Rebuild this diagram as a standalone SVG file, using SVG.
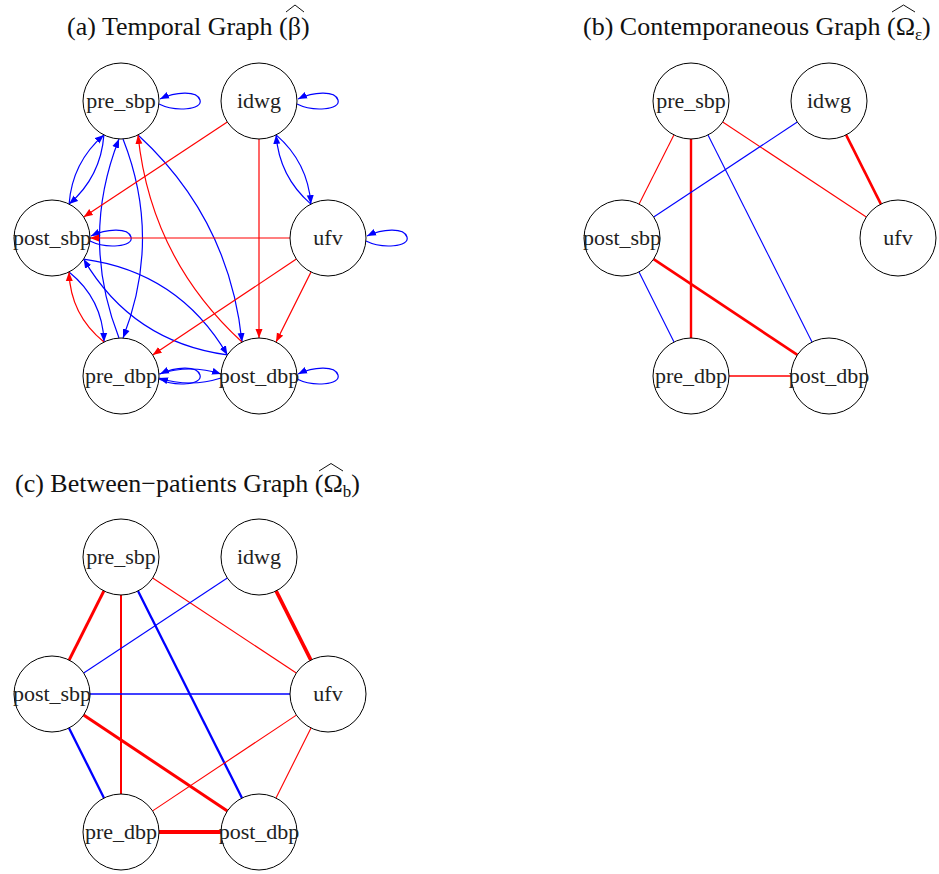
<svg xmlns="http://www.w3.org/2000/svg" width="939" height="874" viewBox="0 0 939 874">
<style>
.node circle{fill:#fff;stroke:#000;stroke-width:1}
.node text{font-family:"Liberation Serif","Times New Roman",serif;font-size:22px;text-anchor:middle;fill:#222}
.e{fill:none}
.r{stroke:#f00}
.b{stroke:#00f}
.w1{stroke-width:1.2px}
.title{font-family:"Liberation Serif","Times New Roman",serif;font-size:26px;fill:#111}
.hat{fill:none;stroke:#111;stroke-width:1}
</style>
<defs>
<marker id="ar" markerWidth="10" markerHeight="8" refX="9" refY="4" orient="auto" markerUnits="userSpaceOnUse"><path d="M0,0.5 L9,4 L0,7.5 z" fill="#f00"/></marker>
<marker id="ab" markerWidth="10" markerHeight="8" refX="9" refY="4" orient="auto" markerUnits="userSpaceOnUse"><path d="M0,0.5 L9,4 L0,7.5 z" fill="#00f"/></marker>
</defs>
<rect width="939" height="874" fill="#fff"/>

<g id="titles">
<text class="title" x="67" y="35">(a) Temporal Graph (β)</text>
<path class="hat" d="M286,12 L295,5 L304,12"/>
<text class="title" x="583" y="35">(b) Contemporaneous Graph (Ω<tspan font-size="17" dy="5">ε</tspan><tspan dy="-5">)</tspan></text>
<path class="hat" d="M892,12 L903.5,5 L915,12"/>
<text class="title" x="15" y="492">(c) Between−patients Graph (Ω<tspan font-size="17" dy="5">b</tspan><tspan dy="-5">)</tspan></text>
<path class="hat" d="M319,471 L331,463.5 L343,471"/>
</g>

<g id="connectors">
<!-- (a) temporal graph -->
<g id="edges-a">
<path class="e w1 b" marker-end="url(#ab)" d="M159,104 C175,112 203,110 200,100 C197,90 175,92 160,99"/>
<path class="e w1 b" marker-end="url(#ab)" d="M297,104 C313,112 341,110 338,100 C335,90 313,92 298,99"/>
<path class="e w1 b" marker-end="url(#ab)" d="M366,241 C382,249 410,247 407,237 C404,227 382,229 367,236"/>
<path class="e w1 b" marker-end="url(#ab)" d="M90,241 C106,249 134,247 131,237 C128,227 106,229 91,236"/>
<path class="e w1 b" marker-end="url(#ab)" d="M297,379 C313,387 341,385 338,375 C335,365 313,367 298,374"/>
<path class="e w1 b" marker-end="url(#ab)" d="M159,379 C175,387 203,385 200,375 C197,365 175,367 160,374"/>
<path class="e w1 b" marker-end="url(#ab)" d="M103.9,134.9 Q100.8,176.7 69.1,204.1"/>
<path class="e w1 b" marker-end="url(#ab)" d="M69.1,204.1 Q72.2,162.3 103.9,134.9"/>
<path class="e w1 b" marker-end="url(#ab)" d="M276.1,134.9 Q307.8,162.3 310.9,204.1"/>
<path class="e w1 b" marker-end="url(#ab)" d="M310.9,204.1 Q279.2,176.7 276.1,134.9"/>
<path class="e w1 b" marker-end="url(#ab)" d="M123,139 Q162,238 123,338"/>
<path class="e w1 b" marker-end="url(#ab)" d="M119,338 Q80,238 119,139"/>
<path class="e w1 b" marker-end="url(#ab)" d="M69,272 Q102.6,299 104,342"/>
<path class="e w1 r" marker-end="url(#ar)" d="M104,342 Q70.4,315 69,272"/>
<path class="e w1 b" marker-end="url(#ab)" d="M138,135 Q229.3,218.8 242,342"/>
<path class="e w1 r" marker-end="url(#ar)" d="M242,342 Q150.7,258.2 138,135"/>
<path class="e w1 b" marker-end="url(#ab)" d="M83.6,259.1 Q178.8,272.1 227.4,354.9"/>
<path class="e w1 b" marker-end="url(#ab)" d="M227.4,354.9 Q132.2,341.9 83.6,259.1"/>
<path class="e w1 b" marker-end="url(#ab)" d="M159,374 Q190,364 221,374"/>
<path class="e w1 b" marker-end="url(#ab)" d="M221,378 Q190,388 159,378"/>
<path class="e w1 r" marker-end="url(#ar)" d="M227.3,122 L83.7,217"/>
<path class="e w1 r" marker-end="url(#ar)" d="M259,139 L259,338"/>
<path class="e w1 r" marker-end="url(#ar)" d="M290,238 L90,238"/>
<path class="e w1 r" marker-end="url(#ar)" d="M296.4,259.1 L152.6,354.9"/>
<path class="e w1 r" marker-end="url(#ar)" d="M311,272 L276,342"/>
</g>
<!-- (b) contemporaneous graph -->
<g id="edges-b">
<path class="e r" style="stroke-width:1.1px" d="M673.9,134.9 L639.1,204.1"/>
<path class="e r" style="stroke-width:2.4px" d="M691,139 L691,338"/>
<path class="e b" style="stroke-width:1.1px" d="M708,135 L812,342"/>
<path class="e r" style="stroke-width:1.1px" d="M722.7,122 L866.3,217"/>
<path class="e b" style="stroke-width:1.1px" d="M797.3,122 L653.7,217"/>
<path class="e r" style="stroke-width:2.6px" d="M846.1,134.9 L880.9,204.1"/>
<path class="e b" style="stroke-width:1.1px" d="M639,272 L674,342"/>
<path class="e r" style="stroke-width:2.6px" d="M653.6,259.1 L797.4,354.9"/>
<path class="e r" style="stroke-width:1.3px" d="M729,376 L791,376"/>
</g>
<!-- (c) between-patients graph -->
<g id="edges-c">
<path class="e r" style="stroke-width:3px" d="M103.9,590.9 L69.1,660.1"/>
<path class="e r" style="stroke-width:2px" d="M121,595 L121,794"/>
<path class="e b" style="stroke-width:2.3px" d="M138,591 L242,798"/>
<path class="e r" style="stroke-width:1.1px" d="M152.7,578 L296.3,673"/>
<path class="e b" style="stroke-width:1.1px" d="M227.3,578 L83.7,673"/>
<path class="e r" style="stroke-width:3.6px" d="M276.1,590.9 L310.9,660.1"/>
<path class="e b" style="stroke-width:1.4px" d="M90,694 L290,694"/>
<path class="e b" style="stroke-width:2.3px" d="M69,728 L104,798"/>
<path class="e r" style="stroke-width:3px" d="M83.6,715.1 L227.4,810.9"/>
<path class="e r" style="stroke-width:1.1px" d="M296.4,715.1 L152.6,810.9"/>
<path class="e r" style="stroke-width:1.1px" d="M311,728 L276,798"/>
<path class="e r" style="stroke-width:3.8px" d="M159,832 L221,832"/>
</g>
</g>

<g id="a-pre_sbp" class="node"><circle cx="121" cy="101" r="38"/><text x="121" y="108">pre_sbp</text></g>
<g id="a-idwg" class="node"><circle cx="259" cy="101" r="38"/><text x="259" y="108">idwg</text></g>
<g id="a-ufv" class="node"><circle cx="328" cy="238" r="38"/><text x="328" y="245">ufv</text></g>
<g id="a-post_dbp" class="node"><circle cx="259" cy="376" r="38"/><text x="259" y="383">post_dbp</text></g>
<g id="a-pre_dbp" class="node"><circle cx="121" cy="376" r="38"/><text x="121" y="383">pre_dbp</text></g>
<g id="a-post_sbp" class="node"><circle cx="52" cy="238" r="38"/><text x="52" y="245">post_sbp</text></g>

<g id="b-pre_sbp" class="node"><circle cx="691" cy="101" r="38"/><text x="691" y="108">pre_sbp</text></g>
<g id="b-idwg" class="node"><circle cx="829" cy="101" r="38"/><text x="829" y="108">idwg</text></g>
<g id="b-ufv" class="node"><circle cx="898" cy="238" r="38"/><text x="898" y="245">ufv</text></g>
<g id="b-post_dbp" class="node"><circle cx="829" cy="376" r="38"/><text x="829" y="383">post_dbp</text></g>
<g id="b-pre_dbp" class="node"><circle cx="691" cy="376" r="38"/><text x="691" y="383">pre_dbp</text></g>
<g id="b-post_sbp" class="node"><circle cx="622" cy="238" r="38"/><text x="622" y="245">post_sbp</text></g>

<g id="c-pre_sbp" class="node"><circle cx="121" cy="557" r="38"/><text x="121" y="564">pre_sbp</text></g>
<g id="c-idwg" class="node"><circle cx="259" cy="557" r="38"/><text x="259" y="564">idwg</text></g>
<g id="c-ufv" class="node"><circle cx="328" cy="694" r="38"/><text x="328" y="701">ufv</text></g>
<g id="c-post_dbp" class="node"><circle cx="259" cy="832" r="38"/><text x="259" y="839">post_dbp</text></g>
<g id="c-pre_dbp" class="node"><circle cx="121" cy="832" r="38"/><text x="121" y="839">pre_dbp</text></g>
<g id="c-post_sbp" class="node"><circle cx="52" cy="694" r="38"/><text x="52" y="701">post_sbp</text></g>
</svg>
